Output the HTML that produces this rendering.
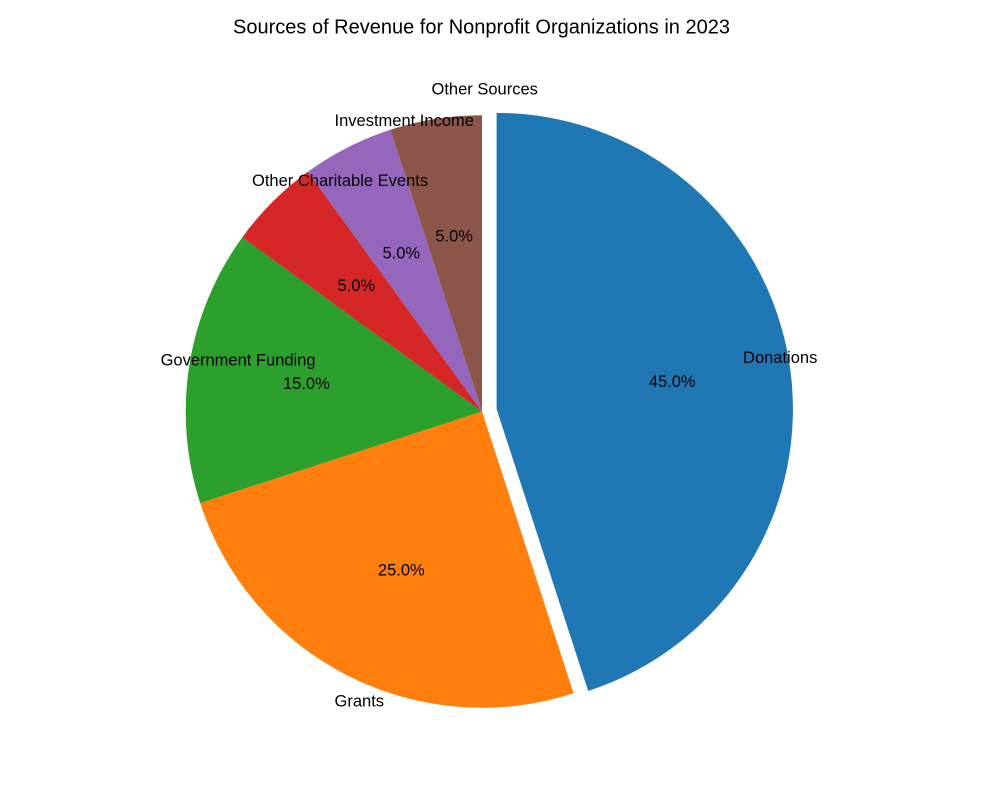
<!DOCTYPE html>
<html lang="en">
<head>
<meta charset="utf-8">
<title>Sources of Revenue for Nonprofit Organizations in 2023</title>
<style>
  html, body { margin: 0; padding: 0; background: #ffffff; }
  #chart { display: block; width: 1000px; height: 800px; font-family: "Liberation Sans", Arial, sans-serif; fill: #000000; }
</style>
</head>
<body>
<svg id="chart" xmlns="http://www.w3.org/2000/svg" width="1000" height="800" viewBox="0 0 1000 800">
  <rect x="0" y="0" width="1000" height="800" fill="#ffffff"></rect>
  <text x="481.5" y="33.5" text-anchor="middle" font-size="20">Sources of Revenue for Nonprofit Organizations in 2023</text>
  <g id="slices"></g>
  <g id="labels"></g>
</svg>
<script>
const categories = ["Donations", "Grants", "Government Funding", "Other Charitable Events", "Investment Income", "Other Sources"];
const values = [45, 25, 15, 5, 5, 5];
const explode = [0.05, 0, 0, 0, 0, 0];
const palette = ["#1f77b4", "#ff7f0e", "#2ca02c", "#d62728", "#9467bd", "#8c564b"];

const NS = "http://www.w3.org/2000/svg";
const cx = 482;
const cy = 411.5;
const radius = 296.3;
const startAngle = 90;
const labelDistance = 1.1;
const pctDistance = 0.6;
const labelSize = 16.5;
const labelBaselineShift = 4.8;
const pctBaselineShift = 5.4;

const total = values.reduce(function (a, b) { return a + b; }, 0);
const slicesGroup = document.getElementById("slices");
const labelsGroup = document.getElementById("labels");

function toRad(deg) { return deg * Math.PI / 180; }
function slugify(s) { return s.toLowerCase().replace(/\s+/g, "-"); }

function addText(str, x, y, anchor) {
  const t = document.createElementNS(NS, "text");
  t.setAttribute("x", x.toFixed(2));
  t.setAttribute("y", y.toFixed(2));
  t.setAttribute("text-anchor", anchor);
  t.setAttribute("font-size", labelSize);
  t.textContent = str;
  labelsGroup.appendChild(t);
  return t;
}

let angle = startAngle;
values.forEach(function (value, i) {
  const sweep = value / total * 360;
  const a0 = angle;
  const a1 = angle - sweep;
  const mid = (a0 + a1) / 2;
  const ux = Math.cos(toRad(mid));
  const uy = -Math.sin(toRad(mid));
  const ox = cx + explode[i] * radius * ux;
  const oy = cy + explode[i] * radius * uy;

  const x0 = ox + radius * Math.cos(toRad(a0));
  const y0 = oy - radius * Math.sin(toRad(a0));
  const x1 = ox + radius * Math.cos(toRad(a1));
  const y1 = oy - radius * Math.sin(toRad(a1));
  const large = sweep > 180 ? 1 : 0;

  const path = document.createElementNS(NS, "path");
  path.setAttribute("d", "M" + ox.toFixed(2) + " " + oy.toFixed(2) +
    " L" + x0.toFixed(2) + " " + y0.toFixed(2) +
    " A" + radius + " " + radius + " 0 " + large + " 1 " + x1.toFixed(2) + " " + y1.toFixed(2) + " Z");
  path.setAttribute("fill", palette[i % palette.length]);
  
  
  slicesGroup.appendChild(path);

  const lx = ox + labelDistance * radius * ux + (ux > 0 ? -1.2 : 0.5);
  const ly = oy + labelDistance * radius * uy + labelBaselineShift;
  const label = addText(categories[i], lx, ly, ux > 0 ? "end" : "start");
  
  

  const px = ox + pctDistance * radius * ux;
  const py = oy + pctDistance * radius * uy + pctBaselineShift;
  const pct = addText((value / total * 100).toFixed(1) + "%", px, py, "middle");
  
  

  angle = a1;
});
</script>
</body>
</html>
